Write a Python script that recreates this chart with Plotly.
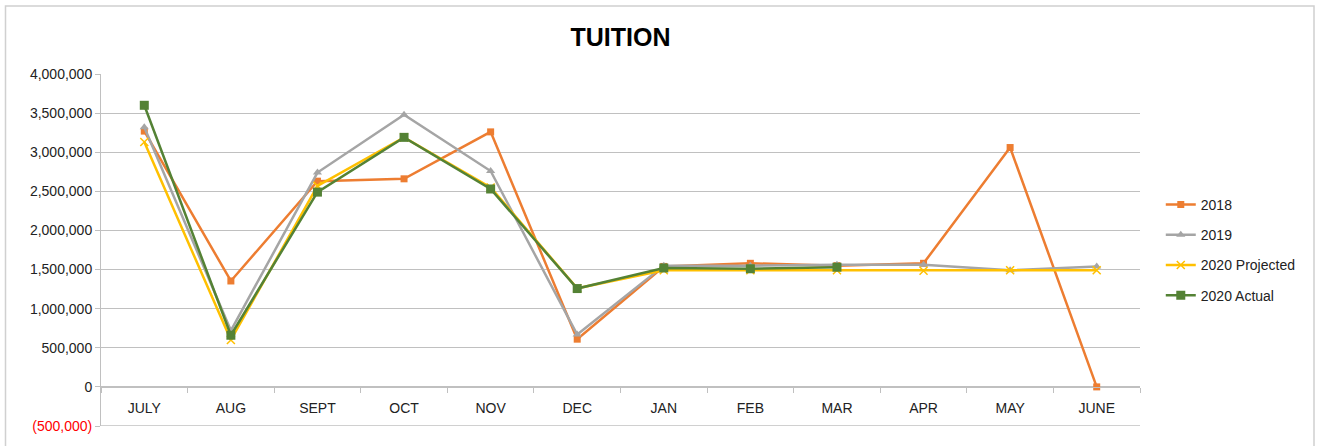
import plotly.graph_objects as go

months = ["JULY", "AUG", "SEPT", "OCT", "NOV", "DEC", "JAN", "FEB", "MAR", "APR", "MAY", "JUNE"]
y2018 = [3270000, 1354000, 2630000, 2660000, 3260000, 610000, 1540000, 1580000, 1550000, 1580000, 3060000, 0]
y2019 = [3320000, 720000, 2740000, 3480000, 2760000, 670000, 1550000, 1550000, 1560000, 1560000, 1490000, 1540000]
y2020p = [3130000, 600000, 2570000, 3190000, 2550000, 1260000, 1490000, 1490000, 1490000, 1485000, 1490000, 1490000]
y2020a = [3600000, 660000, 2490000, 3190000, 2530000, 1257000, 1520000, 1510000, 1530000]

tick_vals = [-500000, 0, 500000, 1000000, 1500000, 2000000, 2500000, 3000000, 3500000, 4000000]

def fmt(v):
    if v < 0:
        return '<span style="color:#FF0000">({:,})</span>'.format(-v)
    return "{:,}".format(v)

tick_text = [fmt(v) for v in tick_vals]

FONT = "Liberation Sans"
GRID = "#C0C0C0"
Y_RANGE = [-500000, 4000000]

fig = go.Figure()
fig.add_trace(go.Scatter(x=months, y=y2018, name="2018", mode="lines+markers",
                         line=dict(color="#ED7D31", width=2.5),
                         marker=dict(symbol="square", size=7, color="#ED7D31")))
fig.add_trace(go.Scatter(x=months, y=y2019, name="2019", mode="lines+markers",
                         line=dict(color="#A5A5A5", width=2.5),
                         marker=dict(symbol="triangle-up", size=8, color="#A5A5A5")))
fig.add_trace(go.Scatter(x=months, y=y2020p, name="2020 Projected", mode="lines+markers",
                         line=dict(color="#FFC000", width=2.5),
                         marker=dict(symbol="x-thin", size=8, color="#FFC000",
                                     line=dict(color="#FFC000", width=1.5))))
fig.add_trace(go.Scatter(x=months[:len(y2020a)], y=y2020a, name="2020 Actual", mode="lines+markers",
                         line=dict(color="#548235", width=2.5),
                         marker=dict(symbol="square", size=9, color="#548235")))

fig.update_layout(
    width=1318, height=446,
    margin=dict(l=101, r=178, t=74, b=17),
    paper_bgcolor="white", plot_bgcolor="white",
    font=dict(family=FONT, size=14, color="#222222"),
    title=dict(text="<b>TUITION</b>", x=0.5, xref="paper", xanchor="center",
               y=1 - 37 / 446, yanchor="middle",
               font=dict(family=FONT, size=25, color="#000000")),
    showlegend=True,
    legend=dict(x=1.02, xanchor="left", y=0.5, yanchor="middle",
                font=dict(family=FONT, size=14, color="#222222"),
                tracegroupgap=9, itemwidth=30, bgcolor="rgba(0,0,0,0)"),
    xaxis=dict(type="category", categoryorder="array", categoryarray=months,
               range=[-0.5, 11.5], anchor="free",
               position=(0 - Y_RANGE[0]) / (Y_RANGE[1] - Y_RANGE[0]),
               showline=True, linecolor=GRID, linewidth=1,
               ticks="outside", tickson="boundaries", ticklen=5, tickcolor=GRID,
               showgrid=False, zeroline=False, ticklabelstandoff=8,
               tickfont=dict(family=FONT, size=14, color="#222222")),
    yaxis=dict(range=Y_RANGE, tickvals=tick_vals, ticktext=tick_text,
               showline=True, linecolor=GRID, linewidth=1,
               ticks="outside", ticklen=5, tickcolor=GRID,
               showgrid=True, gridcolor=GRID, gridwidth=1, zeroline=False,
               tickfont=dict(family=FONT, size=14, color="#222222")),
    shapes=[
        dict(type="rect", xref="paper", yref="paper",
             x0=(5.5 - 101) / 1039, x1=(1314 - 101) / 1039,
             y0=-0.06, y1=(429 - 5.5) / 355,
             line=dict(color="#D0D0D0", width=1.5), fillcolor="rgba(0,0,0,0)",
             layer="below"),
        # bottom gridline of the value axis
        dict(type="line", xref="paper", yref="y", x0=0, x1=1,
             y0=Y_RANGE[0], y1=Y_RANGE[0], line=dict(color=GRID, width=1.5),
             layer="below"),
    ],
)
for i, tr in enumerate(fig.data):
    tr.legendgroup = "g%d" % i

fig.write_html("out.html", config={"displayModeBar": False},
               post_script="document.body.style.margin='0px';document.body.style.overflow='hidden';")
